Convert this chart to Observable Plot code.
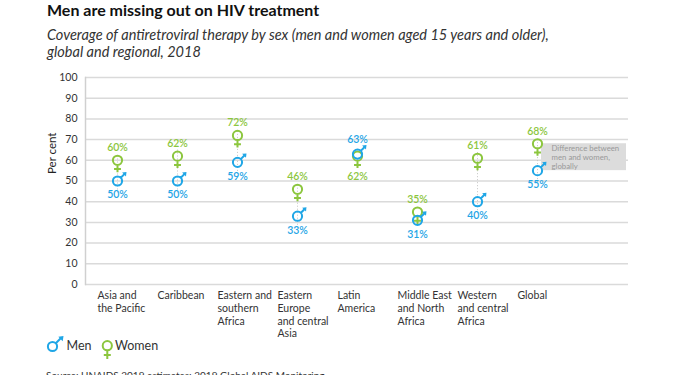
<!DOCTYPE html>
<html><head><meta charset="utf-8">
<script src="https://cdn.jsdelivr.net/npm/d3@7"></script>
<script src="https://cdn.jsdelivr.net/npm/@observablehq/plot@0.6"></script>
<style>
body{margin:0;width:675px;height:375px;overflow:hidden;position:relative;font-family:Lato,"Open Sans",sans-serif;background:#fff;color:#222}
#title{position:absolute;left:47px;top:0px;font-size:16px;font-weight:bold;line-height:19px;color:#111}
#subtitle{position:absolute;left:47px;top:27px;font-size:14.5px;font-style:italic;line-height:16.5px;color:#333}
#chart{position:absolute;left:0;top:62px}
#legend{position:absolute;left:40px;top:330px}
#source{position:absolute;left:46px;top:369px;font-size:10px;color:#333;white-space:nowrap}
</style></head><body>
<div id="title">Men are missing out on HIV treatment</div>
<div id="subtitle">Coverage of antiretroviral therapy by sex (men and women aged 15 years and older),<br>global and regional, 2018</div>
<div id="chart"></div>
<svg id="legend" width="140" height="36">
  <g fill="none" stroke="#1fa6e6" stroke-width="2">
    <circle cx="12.5" cy="16.5" r="4.6"/>
    <path d="M15.8,13.2L21,8"/>
  </g>
  <path d="M23.5,6L18.3,6.8L22.7,11.2Z" fill="#1fa6e6"/>
  <text x="26.5" y="19.5" font-size="12.5" fill="#333" font-family="Lato">Men</text>
  <g fill="none" stroke="#8cc63e" stroke-width="2">
    <circle cx="67.3" cy="15.7" r="4.6"/>
    <path d="M67.3,20.3L67.3,29M63.8,25L70.8,25"/>
  </g>
  <text x="75" y="19.5" font-size="12.5" fill="#333" font-family="Lato">Women</text>
</svg>
<div id="source">Source: UNAIDS 2019 estimates; 2019 Global AIDS Monitoring.</div>
<script>
const regions = ["Asia and\nthe Pacific", "Caribbean", "Eastern and\nsouthern\nAfrica", "Eastern\nEurope\nand central\nAsia", "Latin\nAmerica", "Middle East\nand North\nAfrica", "Western\nand central\nAfrica", "Global"];
const women = [60, 62, 72, 46, 62, 35, 61, 68];
const men = [50, 50, 59, 33, 63, 31, 40, 55];
const yTicks = [0, 10, 20, 30, 40, 50, 60, 70, 80, 90, 100];
const annotation = "Difference between\nmen and women,\nglobally";
const spacer = " ";

const BLUE = "#1fa6e6", GREEN = "#8cc63e";
const rows = regions.map((region, i) => ({region, women: women[i], men: men[i]}));
const womenUp = rows.filter(d => d.women >= d.men);
const womenDown = rows.filter(d => d.women < d.men);
const gap = rows.filter(d => d.women - d.men > 5);
const globalRow = rows.filter(d => d.region === "Global");

const rad = size => Math.sqrt(size / Math.PI);
const maleLine = {draw(ctx, size) {
  const r = rad(size), a = r * Math.SQRT1_2;
  ctx.moveTo(r, 0); ctx.arc(0, 0, r, 0, 2 * Math.PI);
  ctx.moveTo(a, -a); ctx.lineTo(1.55 * r, -1.55 * r);
}};
const maleHead = {draw(ctx, size) {
  const r = rad(size);
  ctx.moveTo(1.95 * r, -1.95 * r);
  ctx.lineTo(1.0 * r, -1.85 * r);
  ctx.lineTo(1.85 * r, -1.0 * r);
  ctx.closePath();
}};
const female = {draw(ctx, size) {
  const r = rad(size);
  ctx.moveTo(r, 0); ctx.arc(0, 0, r, 0, 2 * Math.PI);
  ctx.moveTo(0, r); ctx.lineTo(0, 2.6 * r);
  ctx.moveTo(-0.75 * r, 1.9 * r); ctx.lineTo(0.75 * r, 1.9 * r);
}};

const chart = Plot.plot({
  width: 675,
  height: 278,
  marginTop: 15,
  marginBottom: 56,
  marginLeft: 85,
  marginRight: 47,
  style: {fontFamily: "Lato, 'Open Sans', sans-serif", color: "#333", background: "transparent"},
  x: {type: "point", domain: [...regions, spacer], axis: null},
  y: {domain: [0, 100], axis: null},
  marks: [
    Plot.ruleY(yTicks, {stroke: "#dadada", strokeWidth: 1.5}),
    Plot.frame({anchor: "left", stroke: "#d0d0d0", strokeWidth: 1.5}),
    Plot.text(yTicks, {y: d => d, text: d => String(d), frameAnchor: "left", textAnchor: "end", dx: -8, fontSize: 10.5, fill: "#333"}),
    Plot.text(["Per cent"], {frameAnchor: "left", rotate: -90, dx: -33, dy: -7, fontSize: 11.5, fill: "#222"}),
    Plot.rect(globalRow, {x1: "region", x2: () => spacer, y1: "men", y2: "women", fill: "#dcdcdc", insetLeft: 4, insetRight: -29}),
    Plot.text(globalRow, {x: "region", y: "women", text: () => annotation, textAnchor: "start", lineAnchor: "top", dx: 14, dy: 1, fontSize: 7.8, lineHeight: 1.17, fill: "#999"}),
    Plot.ruleX(gap, {x: "region", y1: "men", y2: "women", stroke: "#c4c4c4", strokeWidth: 1, strokeDasharray: "1,2", insetTop: 12, insetBottom: 6}),
    Plot.dot(rows, {x: "region", y: "women", symbol: female, r: 4.6, stroke: GREEN, strokeWidth: 2, fill: "none"}),
    Plot.dot(rows, {x: "region", y: "men", symbol: maleLine, r: 4.6, stroke: BLUE, strokeWidth: 2, fill: "none"}),
    Plot.dot(rows, {x: "region", y: "men", symbol: maleHead, r: 4.6, fill: BLUE, stroke: "none"}),
    Plot.text(womenUp, {x: "region", y: "women", text: d => d.women + "%", dy: -12.5, fontSize: 10.5, fontWeight: 600, fill: GREEN}),
    Plot.text(womenDown, {x: "region", y: "women", text: d => d.women + "%", dy: 20, fontSize: 10.5, fontWeight: 600, fill: GREEN}),
    Plot.text(womenUp, {x: "region", y: "men", text: d => d.men + "%", dy: 14, fontSize: 10.5, fontWeight: 600, fill: BLUE}),
    Plot.text(womenDown, {x: "region", y: "men", text: d => d.men + "%", dy: -14, fontSize: 10.5, fontWeight: 600, fill: BLUE}),
    Plot.text(rows, {x: "region", text: "region", frameAnchor: "bottom", textAnchor: "start", lineAnchor: "top", dx: -20, dy: 6, fontSize: 10.5, lineHeight: 1.2, fill: "#333"})
  ]
});
document.getElementById("chart").appendChild(chart);
</script>
</body></html>
